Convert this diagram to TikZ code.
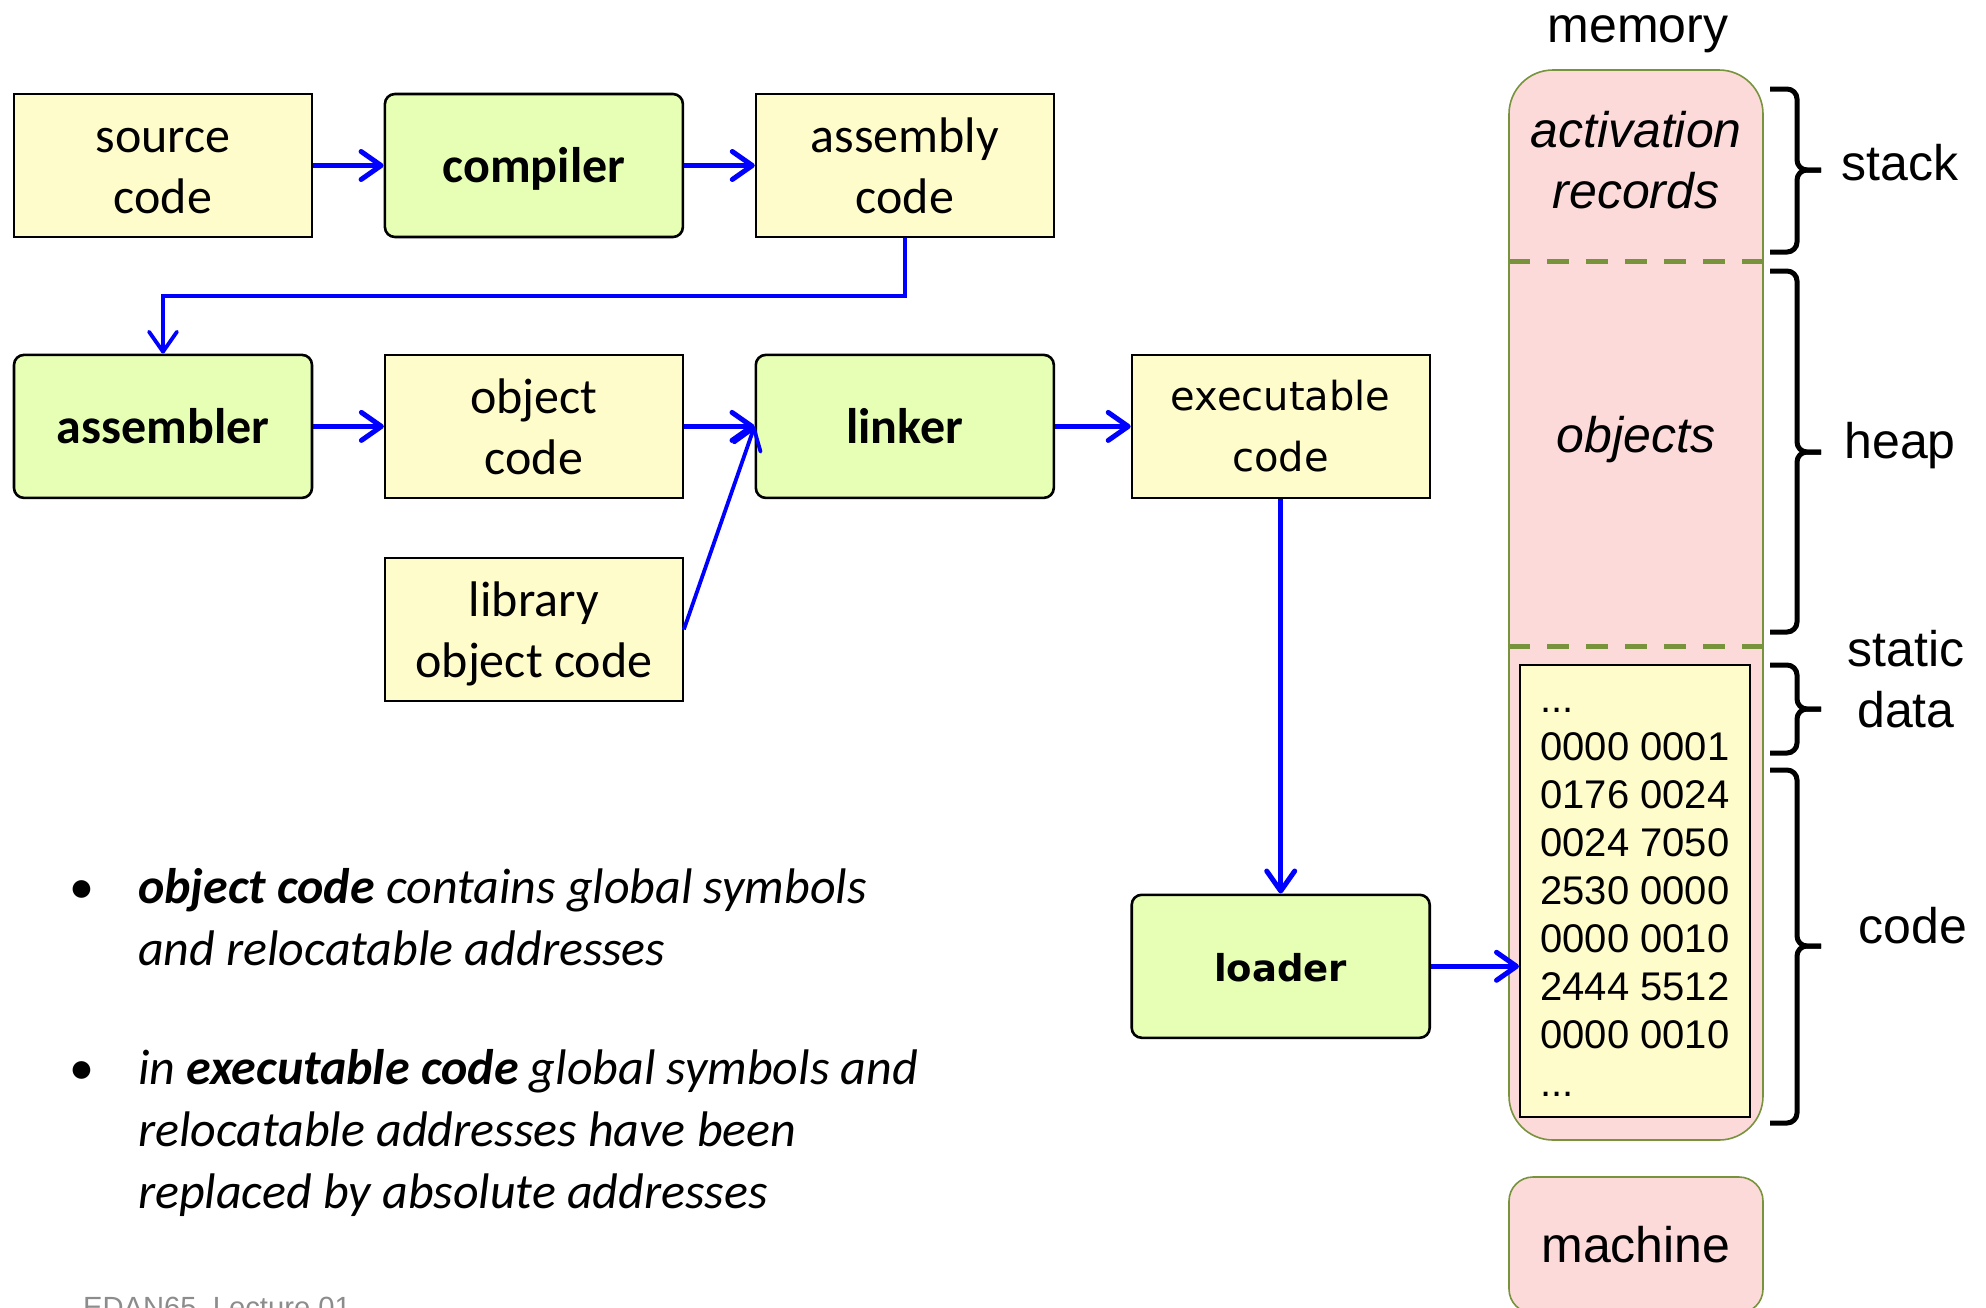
\documentclass[tikz,border=0pt]{standalone}
\usepackage{fontspec}
\setmainfont{Carlito}
\newfontfamily\arialfont{Liberation Sans}
\newfontfamily\verdfont{DejaVu Sans}
\usetikzlibrary{arrows.meta,positioning}

\definecolor{codeyellow}{RGB}{255,252,204}
\definecolor{toolgreen}{RGB}{230,255,180}
\definecolor{mempink}{RGB}{252,218,218}
\definecolor{memolive}{RGB}{119,147,60}
\definecolor{footgray}{RGB}{140,140,140}

% line box as the slides centre it (optional arg = depth)
\newcommand{\ls}[1][6.65pt]{\rule[-#1]{0pt}{30.5pt}}

\begin{document}
\begin{tikzpicture}[x=0.5pt,y=-0.5pt,>={Straight Barb[length=10pt,width=14pt,round]},
                    node distance=57.8pt and 35.3pt,
    artifact/.style={draw=black,fill=codeyellow,line width=1pt,inner sep=0pt,
                     minimum width=149pt,minimum height=71.5pt,align=center,
                     font=\fontsize{25}{30.5}\selectfont},
    tool/.style={artifact,fill=toolgreen,rounded corners=5pt,line width=1.3pt,
                 font=\bfseries\fontsize{25}{30.5}\selectfont},
    flow/.style={->,draw=blue,line width=2.5pt},
    thinflow/.style={flow,line width=1.9pt},
    memblock/.style={draw=memolive,fill=mempink,line width=0.8pt,rounded corners=22pt,
                     minimum width=127pt,minimum height=535pt,inner sep=0pt},
    memsep/.style={draw=memolive,line width=2.5pt,dash pattern=on 11pt off 8.5pt},
    memtext/.style={align=center,font=\arialfont\itshape\fontsize{25}{30.5}\selectfont},
    memlabel/.style={align=center,font=\arialfont\fontsize{25}{30.5}\selectfont},
    hexbox/.style={draw=black,fill=codeyellow,line width=1pt,inner sep=0pt,
                   minimum width=115pt,minimum height=226pt,align=left,
                   font=\arialfont\fontsize{20}{24}\selectfont},
    bracket/.style={draw=black,line width=2.5pt,rounded corners=5pt},
    bullettext/.style={align=left,font=\itshape\fontsize{25}{31}\selectfont},
    footer/.style={text=footgray,font=\arialfont\fontsize{14.6}{17}\selectfont}]

  \useasboundingbox (0,0) rectangle (1986,1307);

  % tool chain
  \node[artifact] (src)  at (163,165.5)       {\ls source\\code\ls};
  \node[tool]     (comp) [right=of src]       {\ls compiler\ls};
  \node[artifact] (asm)  [right=of comp]      {\ls assembly\\code\ls};
  \node[tool]     (asmr) [below=of src]       {\ls assembler\ls};
  \node[artifact] (obj)  [right=of asmr]      {\ls object\\code\ls};
  \node[tool]     (lnk)  [right=of obj]       {\ls linker\ls};
  \node[artifact] (lib)  [below=29pt of obj]  {\ls library\\object code\ls};
  \node[artifact,font=\verdfont\fontsize{20}{30.5}\selectfont]
                  (exe)  [right=37.8pt of lnk] {\ls[8pt]executable\\code\ls[8pt]};
  \node[tool,font=\verdfont\bfseries\fontsize{18.5}{30.5}\selectfont]
                  (ldr)  [below=197.3pt of exe] {\ls[7.5pt]loader\ls[7.5pt]};

  \draw[flow] (src) -- (comp);
  \draw[flow] (comp) -- (asm);
  \draw[thinflow] (asm.south) -- ++(0,58) -| (asmr.north);
  \draw[flow] (asmr) -- (obj);
  \draw[flow] (obj) -- (lnk.west);
  \draw[thinflow] (lib.east) -- (lnk.west);
  \draw[flow] (lnk) -- (exe);
  \draw[flow] (exe) -- (ldr);

  % memory
  \node[memlabel,anchor=base] (memtitle) at (1638,42) {memory};
  \node[memblock] (mem) at (1636,605) {};
  \draw[memsep] (mem.west |- 0,261) -- (mem.east |- 0,261);
  \draw[memsep] (mem.west |- 0,646) -- (mem.east |- 0,646);
  \node[memtext,anchor=base] (act) at (1636,208) {activation\\records};
  \node[memtext,anchor=base] (objs) at (1636,452) {objects};
  \node[hexbox] (mcode) at (1635,891)
    {\rule[-7.2pt]{0pt}{28pt}...\\0000 0001\\0176 0024\\0024 7050\\2530 0000\\0000 0010\\2444 5512\\0000 0010\\...\strut};
  \draw[flow] (ldr.east) -- (ldr.east -| mcode.west);

  \foreach \t/\m/\b in {89/170/252, 271/452/632, 665/709/753, 770/946/1123}{
    \draw[bracket] (1770,\t) -- (1797,\t) -- (1797,\m) -- (1821,\m);
    \draw[bracket] (1770,\b) -- (1797,\b) -- (1797,\m) -- (1821,\m);
  }
  \node[memlabel,anchor=base] (stk)  at (1900,180) {stack};
  \node[memlabel,anchor=base] (heap) at (1900,458) {heap};
  \node[memlabel,anchor=base] (sdat) at (1906,727) {static\\data};
  \node[memlabel,anchor=base] (cod)  at (1913,943) {code};

  \node[memblock,rounded corners=12pt,minimum height=68pt] (mach) at (1636,1245) {};
  \node[memlabel,anchor=base] (machlbl) at (1636,1262) {machine};

  % notes
  \node[anchor=base,font=\fontsize{25}{31}\selectfont] (dot1) at (82,903) {•};
  \node[bullettext,anchor=base west] (b1) at (131,965)
    {\textbf{object code} contains global symbols\\and relocatable addresses};
  \node[anchor=base,font=\fontsize{25}{31}\selectfont] (dot2) at (82,1084) {•};
  \node[bullettext,anchor=base west] (b2) at (131,1208)
    {in \textbf{executable code} global symbols and\\relocatable addresses have been\\replaced by absolute addresses};

  \node[footer,anchor=base west] (foot) at (76,1317) {EDAN65, Lecture 01};
\end{tikzpicture}
\end{document}
